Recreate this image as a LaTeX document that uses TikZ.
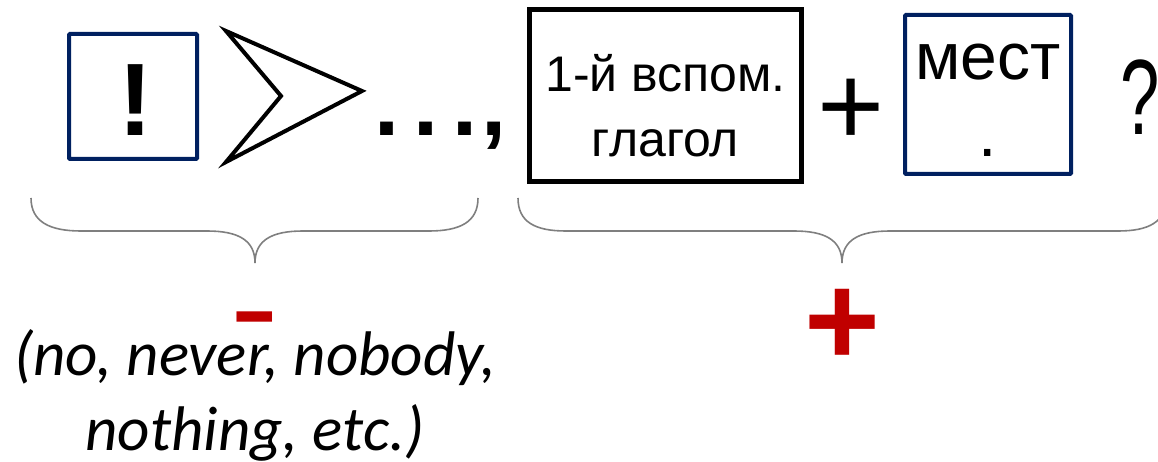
\documentclass[tikz,border=0pt]{standalone}
\usepackage{fontspec}
\setmainfont{Liberation Sans}
\newfontfamily\calibri{Carlito}
\usetikzlibrary{positioning, calc}
\definecolor{navy}{RGB}{0,32,96}
\definecolor{darkred}{RGB}{192,0,0}
\definecolor{bracegray}{RGB}{127,127,127}

\begin{document}
\begin{tikzpicture}[
        x=1pt, y=-1pt,
        bluebox/.style={rectangle, draw=navy, line width=4pt, rounded corners=1pt, inner sep=0pt},
        blackbox/.style={rectangle, draw=black, line width=4.5pt, inner sep=0pt},
        word/.style={inner sep=0pt, anchor=base},
        bracepath/.style={draw=bracegray, line width=1.6pt},
        sign/.style={inner sep=0pt, anchor=base, darkred, font=\fontsize{130}{130}\selectfont\bfseries},
    ]
    \useasboundingbox (0,0) rectangle (1158,462);
    \clip (0,0) rectangle (1158,462);

    % ===== Negative part =====
    \node[bluebox, minimum width=128pt, minimum height=125pt] (EXCL) at (133,96.5) {};
    \node[word, font=\fontsize{103}{103}\selectfont\bfseries] (EXCL_T) at (135.5,136) {!};
    \draw[line width=4pt, miter limit=20] (226,31) -- (362,91) -- (226,162) -- (281,96) -- cycle;
    \node[word, anchor=base west, font=\fontsize{90}{90}\selectfont\bfseries] (DOTS)
        at (374.5,136) {.\kern14pt.\kern14pt.\kern3.5pt,};

    % ===== Question part =====
    \node[blackbox, minimum width=272pt, minimum height=172pt] (AUX) at (665.5,95.5) {};
    \node[word, align=center, font=\fontsize{50}{65}\selectfont] (AUX_T) at (665.5,157)
        {1-й вспом.\\глагол};
    \node[word, font=\fontsize{115}{115}\selectfont] (PLUS) at (851,145.5) {+};
    \node[bluebox, minimum width=166pt, minimum height=159pt] (PRON) at (988,94.5) {};
    \node[word, align=center, font=\fontsize{66}{77}\selectfont] (PRON_T) at (988,157)
        {мест\\.};
    \node[word, anchor=base west, font=\fontsize{107}{107}\selectfont] (QUEST)
        at (1120,135) {\scalebox{0.66}[1]{?}};

    % ===== Braces =====
    \draw[bracepath] (31,198) .. controls (31,222) and (50,231) .. (81,231) -- (207,231)
        .. controls (238,231) and (255,240) .. (255,263)
        .. controls (255,240) and (272,231) .. (303,231) -- (429,231)
        .. controls (460,231) and (478,222) .. (478,198);
    \draw[bracepath] (518,198) .. controls (518,222) and (535,231) .. (566,231) -- (794,231)
        .. controls (825,231) and (842,240) .. (842,263)
        .. controls (842,240) and (859,231) .. (890,231) -- (1118,231)
        .. controls (1149,231) and (1166,222) .. (1166,198);

    % ===== Signs =====
    \node[sign, font=\fontsize{140}{140}\selectfont\bfseries] (MINUS) at (254.5,339)
        {\scalebox{1}[0.62]{-}};
    \node[sign] (PLUS_R) at (842.5,365) {+};
    \node[word, align=center, font=\calibri\itshape\fontsize{63}{75}\selectfont] (NEG_EX)
        at (255,450) {(no, never, nobody,\\nothing, etc.)};

\end{tikzpicture}
\end{document}
